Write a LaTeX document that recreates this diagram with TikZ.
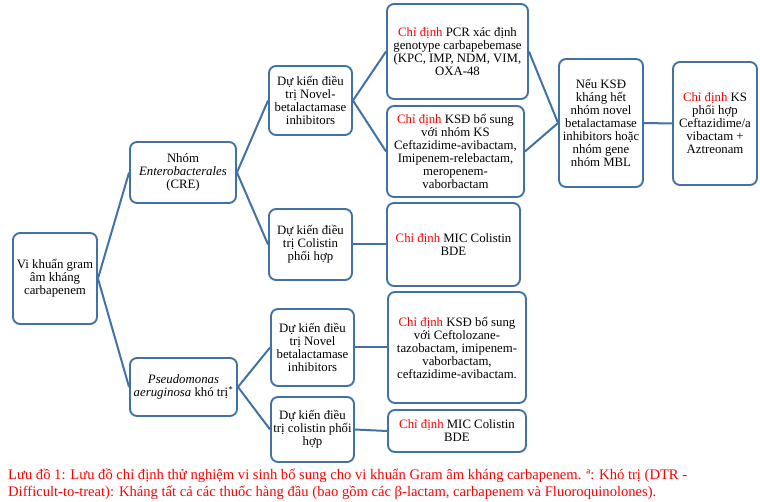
\documentclass[tikz,border=0pt]{standalone}
\usepackage{fontspec}
\setmainfont{Liberation Serif}
\usepackage{xcolor}
\definecolor{boxblue}{RGB}{66,113,166}
\newcommand{\cd}{\textcolor{red}{Chỉ định}}

\tikzset{
  box/.style={draw=boxblue, line width=1.9pt, rounded corners=7pt, fill=white,
    align=center, inner sep=1pt, font=\fontsize{12.8}{13}\selectfont},
  link/.style={draw=boxblue, line width=2pt}
}

\begin{document}
\begin{tikzpicture}[x=1pt,y=-1pt]
    \useasboundingbox (0,0) rectangle (760,502);

    % first level
    \node[box, minimum width=84pt, minimum height=91pt] (root) at (55,278.5) {Vi khuẩn gram\\âm kháng\\carbapenem};
    \node[box, minimum width=106pt, minimum height=61pt] (entero) at (183,172.5) {Nhóm\\\textit{Enterobacterales}\\(CRE)};
    \node[box, minimum width=107pt, minimum height=58pt] (pseudo) at (183.5,387) {\textit{Pseudomonas}\\\textit{aeruginosa} khó trị\textsuperscript{*}};

    % Enterobacterales branch
    \node[box, minimum width=83pt, minimum height=69pt] (novelA) at (310.5,100.5) {Dự kiến điều\\trị Novel-\\betalactamase\\inhibitors};
    \node[box, minimum width=83pt, minimum height=71pt] (colisA) at (310.5,244.5) {Dự kiến điều\\trị Colistin\\phối hợp};
    \node[box, minimum width=141pt, minimum height=95pt] (pcr) at (457.5,51.5) {\cd{} PCR xác định\\genotype carbapebemase\\(KPC, IMP, NDM, VIM,\\OXA-48};
    \node[box, minimum width=137pt, minimum height=91pt] (ksdA) at (455.5,151.5) {\cd{} KSĐ bổ sung\\với nhóm KS\\Ceftazidime-avibactam,\\Imipenem-relebactam,\\meropenem-\\vaborbactam};
    \node[box, minimum width=133pt, minimum height=83pt] (micA) at (453.5,244.5) {\cd{} MIC Colistin\\BDE};
    \node[box, minimum width=84pt, minimum height=128pt] (mbl) at (601,123) {Nếu KSĐ\\kháng hết\\nhóm novel\\betalactamase\\inhibitors hoặc\\nhóm gene\\nhóm MBL};
    \node[box, minimum width=84pt, minimum height=123pt] (aztreo) at (715,123.5) {\cd{} KS\\phối hợp\\Ceftazidime/a\\vibactam +\\Aztreonam};

    % Pseudomonas branch
    \node[box, minimum width=83pt, minimum height=77pt] (novelB) at (312.5,347.5) {Dự kiến điều\\trị Novel\\betalactamase\\inhibitors};
    \node[box, minimum width=83pt, minimum height=65pt] (colisB) at (312.5,429.5) {Dự kiến điều\\trị colistin phối\\hợp};
    \node[box, minimum width=138pt, minimum height=111pt] (ksdB) at (457,347.5) {\cd{} KSĐ bổ sung\\với Ceftolozane-\\tazobactam, imipenem-\\vaborbactam,\\ceftazidime-avibactam.};
    \node[box, minimum width=138pt, minimum height=42pt] (micB) at (457,431) {\cd{} MIC Colistin\\BDE};

    \draw[link] (root.east) -- (entero.west);
    \draw[link] (root.east) -- (pseudo.west);
    \draw[link] (entero.east) -- (novelA.west);
    \draw[link] (entero.east) -- (colisA.west);
    \draw[link] (novelA.east) -- (pcr.west);
    \draw[link] (novelA.east) -- (ksdA.west);
    \draw[link] (colisA.east) -- (micA.west);
    \draw[link] (pcr.east) -- (mbl.west);
    \draw[link] (ksdA.east) -- (mbl.west);
    \draw[link] (mbl.east) -- (aztreo.west);
    \draw[link] (pseudo.east) -- (novelB.west);
    \draw[link] (pseudo.east) -- (colisB.west);
    \draw[link] (novelB.east) -- (ksdB.west);
    \draw[link] (colisB.east) -- (micB.west);

    \node[anchor=north west, inner sep=0pt, align=left, text=red,
      font=\fontsize{14.6}{16.3}\selectfont] (caption) at (8,469)
      {Lưu đồ 1: Lưu đồ chỉ định thử nghiệm vi sinh bổ sung cho vi khuẩn Gram âm kháng carbapenem. ª: Khó trị (DTR -\\
       Difficult-to-treat): Kháng tất cả các thuốc hàng đầu (bao gồm các β-lactam, carbapenem và Fluoroquinolones).};
\end{tikzpicture}
\end{document}
